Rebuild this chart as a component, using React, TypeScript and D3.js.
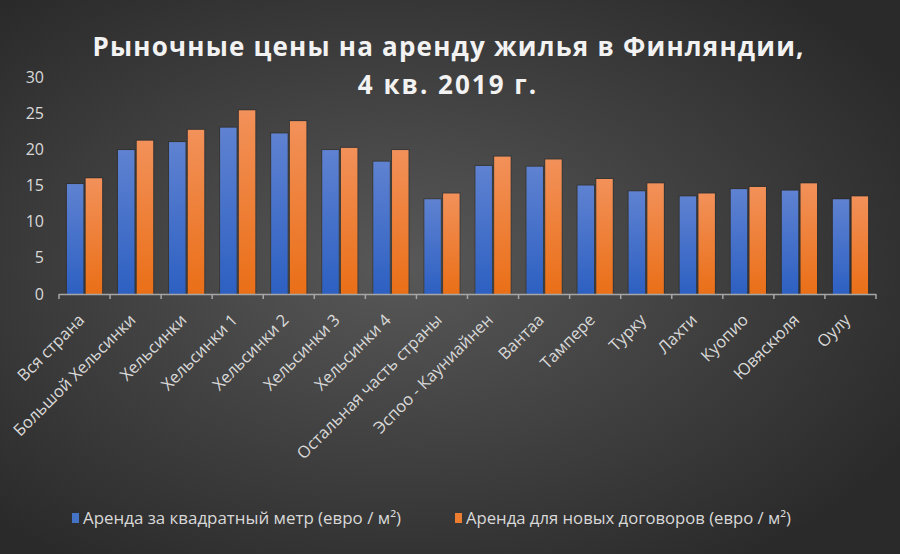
import React from "react";
import * as d3 from "d3";

const categories = [
  "Вся страна", "Большой Хельсинки", "Хельсинки", "Хельсинки 1", "Хельсинки 2",
  "Хельсинки 3", "Хельсинки 4", "Остальная часть страны", "Эспоо - Кауниайнен",
  "Вантаа", "Тампере", "Турку", "Лахти", "Куопио", "Ювяскюля", "Оулу",
];
const perSquareMetre = [15.2, 19.9, 21.0, 23.0, 22.2, 19.9, 18.3, 13.1, 17.7, 17.6, 15.0, 14.2, 13.5, 14.5, 14.3, 13.1];
const newContracts = [16.0, 21.2, 22.7, 25.4, 23.9, 20.2, 19.9, 13.9, 19.0, 18.6, 15.9, 15.3, 13.9, 14.8, 15.3, 13.5];
const seriesNames = ["Аренда за квадратный метр (евро / м²)", "Аренда для новых договоров (евро / м²)"];
const yTicks = [0, 5, 10, 15, 20, 25, 30];

const W = 900, H = 554;
const left = 59, right = 876, top = 77, bottom = 294;

export default function App() {
  const x0 = d3.scaleBand<string>().domain(categories).range([left, right]).paddingInner(0.31).paddingOuter(0.155);
  const x1 = d3.scaleBand<number>().domain([0, 1]).range([0, x0.bandwidth()]).paddingInner(0.12);
  const y = d3.scaleLinear().domain([0, 30]).range([bottom, top]);
  const series = [perSquareMetre, newContracts];
  const fills = ["url(#gBlue)", "url(#gOrange)"];
  const legendX = [72, 455];
  const labelFont = "'Open Sans', 'Noto Sans', sans-serif";

  return (
    <svg width={W} height={H} style={{ display: "block", position: "absolute", left: 0, top: 0 }}>
      <defs>
        <radialGradient id="bg" cx="45%" cy="48%" r="65%">
          <stop offset="0%" stopColor="#585858" />
          <stop offset="100%" stopColor="#2a2a2a" />
        </radialGradient>
        <linearGradient id="gBlue" x1="0" y1="0" x2="0" y2="1">
          <stop offset="0%" stopColor="#5f82d1" />
          <stop offset="100%" stopColor="#2d60c2" />
        </linearGradient>
        <linearGradient id="gOrange" x1="0" y1="0" x2="0" y2="1">
          <stop offset="0%" stopColor="#f2915a" />
          <stop offset="100%" stopColor="#ea6f17" />
        </linearGradient>
      </defs>
      <rect width={W} height={H} fill="url(#bg)" />

      <text x={448} y={56} textAnchor="middle" fill="#f2f2f2" fontFamily={labelFont} fontWeight="bold"
        fontSize={26} textLength={711} lengthAdjust="spacing">
        Рыночные цены на аренду жилья в Финляндии,
      </text>
      <text x={448} y={94} textAnchor="middle" fill="#f2f2f2" fontFamily={labelFont} fontWeight="bold"
        fontSize={26} letterSpacing={2}>
        4 кв. 2019 г.
      </text>

      {yTicks.map((t) => (
        <text key={t} x={44} y={y(t)} dy="0.35em" textAnchor="end" fill="#d9d9d9" fontFamily={labelFont} fontSize={16}>
          {t}
        </text>
      ))}

      {categories.map((c, i) => (
        <g key={c}>
          {series.map((s, k) => {
            const bx = (x0(c) ?? 0) + (x1(k) ?? 0);
            return (
              <g key={k}>
                <rect x={bx - 1} y={y(s[i]) - 1} width={x1.bandwidth() + 2} height={bottom - y(s[i]) + 1} fill="#262626" opacity={0.45} />
                <rect x={bx} y={y(s[i])} width={x1.bandwidth()} height={bottom - y(s[i])} fill={fills[k]} />
              </g>
            );
          })}
        </g>
      ))}

      <line x1={left} x2={right} y1={bottom + 0.5} y2={bottom + 0.5} stroke="#a6a6a6" strokeWidth={1.5} />
      {d3.range(categories.length + 1).map((i) => {
        const tx = left + i * x0.step();
        return <line key={i} x1={tx} x2={tx} y1={bottom} y2={bottom + 5} stroke="#a6a6a6" strokeWidth={1.5} />;
      })}

      {categories.map((c) => {
        const cx = (x0(c) ?? 0) + x0.bandwidth() / 2;
        return (
          <text key={c} transform={`translate(${cx + 1},${bottom + 27}) rotate(-45)`} textAnchor="end"
            fill="#d9d9d9" fontFamily={labelFont} fontSize={16.5}>
            {c}
          </text>
        );
      })}

      {seriesNames.map((n, k) => (
        <g key={n}>
          <rect x={legendX[k]} y={513} width={7} height={10} fill={k === 0 ? "#4472c4" : "#ed7d31"} />
          <text x={legendX[k] + 11} y={524} fill="#d9d9d9" fontFamily={labelFont} fontSize={16}
            textLength={k === 0 ? 318 : 325} lengthAdjust="spacingAndGlyphs">
            {n}
          </text>
        </g>
      ))}
    </svg>
  );
}
